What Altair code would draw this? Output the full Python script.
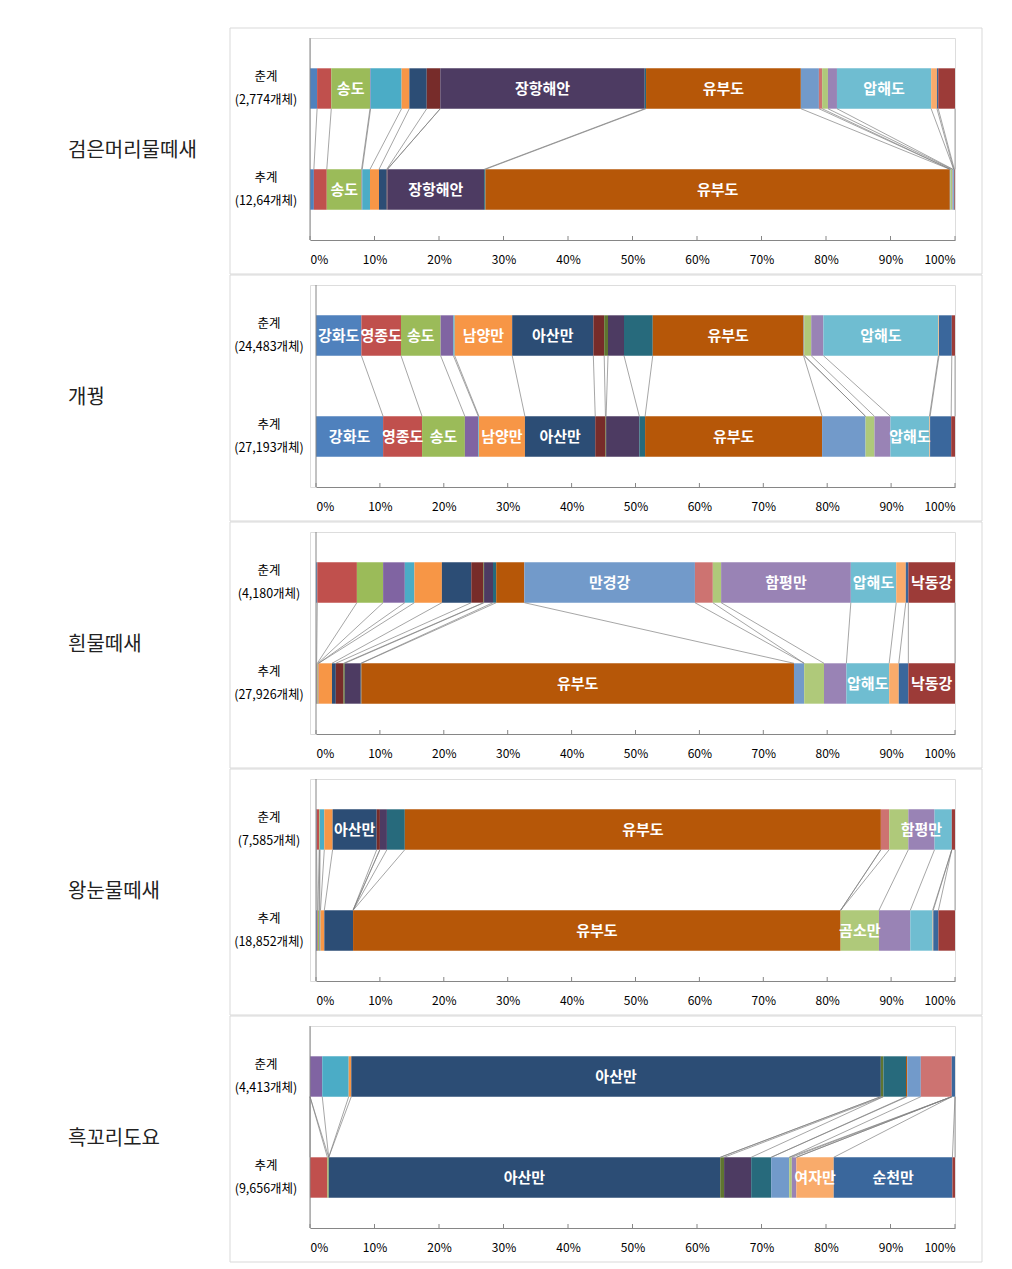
import altair as alt
import pandas as pd

FONT = "Noto Sans CJK KR"

SITES = ["강화도", "영종도", "송도", "지점04", "지점05", "남양만", "아산만", "지점08",
         "지점09", "장항해안", "지점11", "유부도", "만경강", "지점14", "곰소만", "함평만",
         "압해도", "여자만", "순천만", "낙동강"]
COLORS = ["#4F81BD", "#C0504D", "#9BBB59", "#8064A2", "#4BACC6", "#F79646",
          "#2C4D75", "#772C2A", "#5F7530", "#4D3B62", "#276A7C", "#B65708",
          "#729ACA", "#CD7371", "#AFC97A", "#9983B5", "#6FBDD1", "#F9AB6B",
          "#3A679C", "#9C3B38"]

SPECIES = ["검은머리물떼새", "개꿩", "흰물떼새", "왕눈물떼새", "흑꼬리도요"]
SEASONS = ["춘계", "추계"]
COUNT_SPRING = ["2,774", "24,483", "4,180", "7,585", "4,413"]
COUNT_AUTUMN = ["12,64", "27,193", "27,926", "18,852", "9,656"]

# percentage share of each site (same order as SITES)
SPRING_1 = [1.1, 2.2, 6.0, 0.1, 4.8, 1.2, 2.7, 2.1, 0.0, 31.7, 0.2, 24.0, 2.8, 0.5, 0.9, 1.4, 14.6, 0.9, 0.2, 2.6]
AUTUMN_1 = [0.6, 2.0, 5.4, 0.1, 1.2, 1.4, 1.2, 0.1, 0.0, 15.0, 0.2, 72.0, 0.1, 0.0, 0.3, 0.1, 0.1, 0.0, 0.1, 0.1]
SPRING_2 = [7.1, 6.2, 6.2, 2.0, 0.2, 9.0, 12.7, 1.7, 0.6, 2.5, 4.5, 23.6, 0.1, 0.0, 1.1, 1.9, 18.0, 0.1, 2.0, 0.5]
AUTUMN_2 = [10.5, 6.1, 6.7, 2.1, 0.1, 7.2, 11.0, 1.6, 0.1, 5.2, 0.9, 27.7, 6.8, 0.0, 1.4, 2.5, 6.1, 0.1, 3.3, 0.6]
SPRING_3 = [0.2, 6.2, 4.1, 3.4, 1.5, 4.3, 4.6, 1.9, 0.1, 1.4, 0.5, 4.4, 26.7, 2.8, 1.3, 20.3, 7.1, 1.5, 0.4, 7.3]
AUTUMN_3 = [0.1, 0.1, 0.1, 0.1, 0.0, 2.1, 0.6, 1.2, 0.2, 2.5, 0.1, 67.7, 1.6, 0.0, 3.1, 3.5, 6.7, 1.5, 1.5, 7.3]
SPRING_4 = [0.1, 0.4, 0.1, 0.0, 0.7, 1.3, 6.9, 0.5, 0.0, 1.1, 2.8, 74.5, 0.0, 1.3, 3.0, 4.1, 2.7, 0.0, 0.0, 0.5]
AUTUMN_4 = [0.2, 0.1, 0.2, 0.1, 0.1, 0.6, 4.5, 0.0, 0.0, 0.0, 0.0, 76.3, 0.0, 0.0, 6.0, 4.9, 3.5, 0.1, 0.8, 2.6]
SPRING_5 = [0.0, 0.0, 0.0, 1.9, 4.1, 0.4, 82.1, 0.0, 0.4, 0.0, 3.5, 0.2, 2.1, 4.8, 0.0, 0.0, 0.0, 0.0, 0.5, 0.0]
AUTUMN_5 = [0.0, 2.7, 0.2, 0.0, 0.0, 0.0, 60.7, 0.0, 0.6, 4.2, 3.1, 0.0, 2.8, 0.0, 0.4, 0.7, 0.0, 5.8, 18.4, 0.4]

LABELS_SPRING_1 = ["송도", "장항해안", "유부도", "압해도"]
LABELS_AUTUMN_1 = ["송도", "장항해안", "유부도"]
LABELS_SPRING_2 = ["강화도", "영종도", "송도", "남양만", "아산만", "유부도", "압해도"]
LABELS_AUTUMN_2 = ["강화도", "영종도", "송도", "남양만", "아산만", "유부도", "압해도"]
LABELS_SPRING_3 = ["만경강", "함평만", "압해도", "낙동강"]
LABELS_AUTUMN_3 = ["유부도", "압해도", "낙동강"]
LABELS_SPRING_4 = ["아산만", "유부도", "함평만"]
LABELS_AUTUMN_4 = ["유부도", "곰소만"]
LABELS_SPRING_5 = ["아산만"]
LABELS_AUTUMN_5 = ["아산만", "여자만", "순천만"]

SPRING = [SPRING_1, SPRING_2, SPRING_3, SPRING_4, SPRING_5]
AUTUMN = [AUTUMN_1, AUTUMN_2, AUTUMN_3, AUTUMN_4, AUTUMN_5]
LAB_S = [LABELS_SPRING_1, LABELS_SPRING_2, LABELS_SPRING_3, LABELS_SPRING_4, LABELS_SPRING_5]
LAB_A = [LABELS_AUTUMN_1, LABELS_AUTUMN_2, LABELS_AUTUMN_3, LABELS_AUTUMN_4, LABELS_AUTUMN_5]
TICKS = list(range(0, 101, 10))

# layout (styles)
W, H = 645, 202
ROW = {"춘계": 0.5, "추계": 1.5}
HALF = 0.2
LEFT_RANGE = [0, 6, 6, 6, 0]
YLAB_X = [-44, -41, -41, -41, -44]
GRAY = "#868686"


def make_panel(k):
    xs = alt.Scale(domain=[0, 100], range=[LEFT_RANGE[k], W], nice=False, zero=False)
    ysc = alt.Scale(domain=[0, 2], reverse=True, nice=False, zero=False)
    xaxis = alt.Axis(title=None, values=TICKS, labelExpr="datum.value + '%'",
                     ticks=False, tickSize=0, labelPadding=14, domainColor=GRAY,
                     labelColor="#000000", labelFontSize=12, labelFont=FONT, grid=False)

    seg_rows, line_rows = [], []
    ends = {}
    for season, vals, labs in (("춘계", SPRING[k], LAB_S[k]), ("추계", AUTUMN[k], LAB_A[k])):
        cum = 0.0
        for site, v in zip(SITES, vals):
            seg_rows.append(dict(season=season, site=site, start=cum, end=cum + v,
                                 mid=cum + v / 2, y0=ROW[season] - HALF,
                                 y1=ROW[season] + HALF, yc=ROW[season],
                                 label=site if site in labs else ""))
            cum += v
            ends[(season, site)] = min(cum, 100.0)
    for site in SITES:
        line_rows.append(dict(site=site, xs=ends[("춘계", site)], xa=ends[("추계", site)],
                              ys=ROW["춘계"] + HALF, ya=ROW["추계"] - HALF))
    seg = pd.DataFrame(seg_rows)
    lines = pd.DataFrame(line_rows)
    one = pd.DataFrame({"a": [0]})

    box = alt.Chart(one).mark_rect(fillOpacity=0, stroke="#d9d9d9", strokeWidth=1).encode(
        x=alt.value(-80), x2=alt.value(672), y=alt.value(-10), y2=alt.value(236))

    bars = alt.Chart(seg).mark_bar().encode(
        x=alt.X("start:Q", scale=xs, axis=xaxis),
        x2="end:Q",
        y=alt.Y("y0:Q", scale=ysc, axis=None),
        y2="y1:Q",
        color=alt.Color("site:N", scale=alt.Scale(domain=SITES, range=COLORS), legend=None),
    )

    labels = alt.Chart(seg[seg["label"] != ""]).mark_text(
        color="white", fontWeight="bold", fontSize=15, font=FONT, baseline="middle", align="center"
    ).encode(
        x=alt.X("mid:Q", scale=xs, axis=xaxis),
        y=alt.Y("yc:Q", scale=ysc, axis=None),
        text="label:N",
    )

    conn = alt.Chart(lines).mark_rule(color="#7f7f7f", strokeWidth=0.7).encode(
        x=alt.X("xs:Q", scale=xs, axis=xaxis),
        x2="xa:Q",
        y=alt.Y("ys:Q", scale=ysc, axis=None),
        y2="ya:Q",
    )

    vline = alt.Chart(pd.DataFrame({"t": [0]})).mark_rule(color=GRAY, strokeWidth=1).encode(
        x=alt.X("t:Q", scale=xs, axis=xaxis), y=alt.value(0), y2=alt.value(H))

    ticks = alt.Chart(pd.DataFrame({"t": TICKS})).mark_rule(color=GRAY, strokeWidth=1).encode(
        x=alt.X("t:Q", scale=xs, axis=xaxis), y=alt.value(H - 4), y2=alt.value(H))

    ylab = pd.DataFrame({
        "yc": [ROW["춘계"], ROW["추계"]],
        "t": [f"춘계\n({COUNT_SPRING[k]}개체)", f"추계\n({COUNT_AUTUMN[k]}개체)"],
    })
    ylabels = alt.Chart(ylab).mark_text(
        align="center", baseline="middle", lineBreak="\n", lineHeight=23, dy=-12,
        fontSize=12.5, font=FONT, color="#000000"
    ).encode(x=alt.value(YLAB_X[k]), y=alt.Y("yc:Q", scale=ysc, axis=None), text="t:N")

    sp = alt.Chart(pd.DataFrame({"n": [SPECIES[k]]})).mark_text(
        align="left", baseline="middle", fontSize=20, font=FONT, color="#222222"
    ).encode(x=alt.value(-242), y=alt.value(113), text="n:N")

    layers = [box, bars, conn, labels, vline, ticks, ylabels, sp]
    if k == 0:
        anchor = alt.Chart(one).mark_rect(opacity=0).encode(
            x=alt.value(-301), x2=alt.value(-297), y=alt.value(-29), y2=alt.value(-25))
        layers.append(anchor)
    return alt.layer(*layers).properties(width=W, height=H)


panels = [make_panel(k) for k in range(5)]
chart = (
    alt.vconcat(*panels, spacing=45, bounds="flush")
    .resolve_scale(x="independent", y="independent")
    .properties(padding=0)
    .configure_view(stroke="transparent")
    .configure(font=FONT)
)
chart.save("out.html", embed_options={"renderer": "svg", "actions": False})
